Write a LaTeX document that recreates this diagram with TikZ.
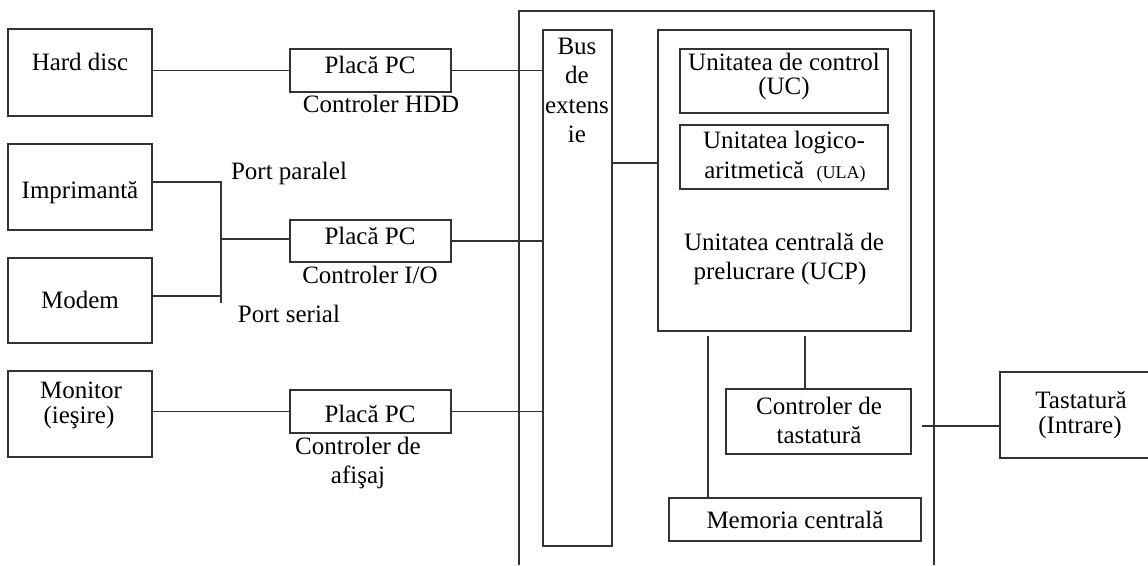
\documentclass[tikz,border=0pt]{standalone}
\usepackage{fontspec}
\setmainfont{Liberation Serif}
\begin{document}
\begin{tikzpicture}[x=1pt,y=-1pt,
  box/.style={draw=black!80, line width=1.1pt, inner sep=0pt, outer sep=0pt},
  t/.style={anchor=base, inner sep=0pt, font=\fontsize{25}{30}\selectfont},
  wire/.style={draw=black!80, line width=1.1pt}]
\useasboundingbox (0,0) rectangle (1148,565);

% peripheral devices
\node[box, minimum width=144pt, minimum height=87pt] (hd) at (80,72.5) {};
\node[box, minimum width=144pt, minimum height=86pt] (impr) at (80,187) {};
\node[box, minimum width=144pt, minimum height=85pt] (modem) at (80,300.5) {};
\node[box, minimum width=144pt, minimum height=86pt] (monitor) at (80,414) {};
\node[t] (hdt) at (80,70) {Hard disc};
\node[t] (imprt) at (80,198) {Imprimantă};
\node[t] (modemt) at (80,308) {Modem};
\node[t] (mont1) at (81,398) {Monitor};
\node[t] (mont2) at (79,423) {(ieşire)};

% expansion cards
\node[box, minimum width=161pt, minimum height=43pt] (pc1) at (370.5,70.5) {};
\node[box, minimum width=161pt, minimum height=42pt] (pc2) at (370.5,241) {};
\node[box, minimum width=161pt, minimum height=43pt] (pc3) at (370.5,411.5) {};
\node[t] (pc1t) at (370,73) {Placă PC};
\node[t] (pc2t) at (370,244) {Placă PC};
\node[t] (pc3t) at (370,422) {Placă PC};
\node[t] (hddt) at (381,112) {Controler HDD};
\node[t] (iot) at (370,283) {Controler I/O};
\node[t] (dsp1) at (358,454) {Controler de};
\node[t] (dsp2) at (358,483) {afişaj};
\node[t] (ppar) at (289,179) {Port paralel};
\node[t] (pser) at (289,322) {Port serial};

% system unit frame
\draw[wire] (519,565) -- (519,11) -- (934,11) -- (934,565);

% expansion bus
\node[box, minimum width=69pt, minimum height=516pt] (bus) at (577.5,288) {};
\node[t] (bus1) at (577,54) {Bus};
\node[t] (bus2) at (577,83) {de};
\node[t] (bus3) at (577,113) {extens};
\node[t] (bus4) at (577,142) {ie};

% central processing unit
\node[box, minimum width=253pt, minimum height=301pt] (cpu) at (784.5,180.5) {};
\node[box, minimum width=208pt, minimum height=64pt] (uc) at (784,81) {};
\node[box, minimum width=208pt, minimum height=64pt] (ula) at (784,157) {};
\node[t] (uc1) at (784,70) {Unitatea de control};
\node[t] (uc2) at (784,94) {(UC)};
\node[t] (ula1) at (784,148) {Unitatea logico-};
\node[t] (ula2) at (785,178) {aritmetică\hspace{12.5pt}{\fontsize{18}{18}\selectfont(ULA)}};
\node[t] (ucp1) at (784,250) {Unitatea centrală de};
\node[t] (ucp2) at (780,279) {prelucrare (UCP)};

% keyboard controller, memory, keyboard
\node[box, minimum width=185pt, minimum height=65pt] (kbc) at (818.5,421.5) {};
\node[t] (kbc1) at (819,414) {Controler de};
\node[t] (kbc2) at (819,443) {tastatură};
\node[box, minimum width=252pt, minimum height=43pt] (mem) at (795,519.5) {};
\node[t] (memt) at (795,528) {Memoria centrală};
\node[box, minimum width=150pt, minimum height=86pt] (kb) at (1075,415) {};
\node[t] (kb1) at (1081,408) {Tastatură};
\node[t] (kb2) at (1080,433) {(Intrare)};

% connections
\draw[wire] (hd.east |- pc1.west) -- (pc1.west);
\draw[wire] (pc1.east) -- (pc1.east -| bus.west);
\coordinate (pj) at (221,239);
\draw[wire] ([yshift=5pt]impr.east) -| ([yshift=4.5pt]modem.east -| pj) -- ([yshift=4.5pt]modem.east);
\draw[wire] ([yshift=4.5pt]modem.east -| pj) -- ++(0,7);
\draw[wire] (pj) -- (pj -| pc2.west);
\draw[wire] (pc2.east) -- (pc2.east -| bus.west);
\draw[wire] (pc3.west -| monitor.east) -- (pc3.west);
\draw[wire] (pc3.east) -- (pc3.east -| bus.west);
\coordinate (bj) at (612,163);
\draw[wire] (bus.east |- bj) -- (cpu.west |- bj);
\coordinate (mt) at (708,336);
\draw[wire] (mt) -- (mt |- mem.north);
\coordinate (kt) at (805,336);
\draw[wire] (kt) -- (kt |- kbc.north);
\coordinate (kj) at (922,426);
\draw[wire] (kj) -- (kj -| kb.west);
\end{tikzpicture}
\end{document}
